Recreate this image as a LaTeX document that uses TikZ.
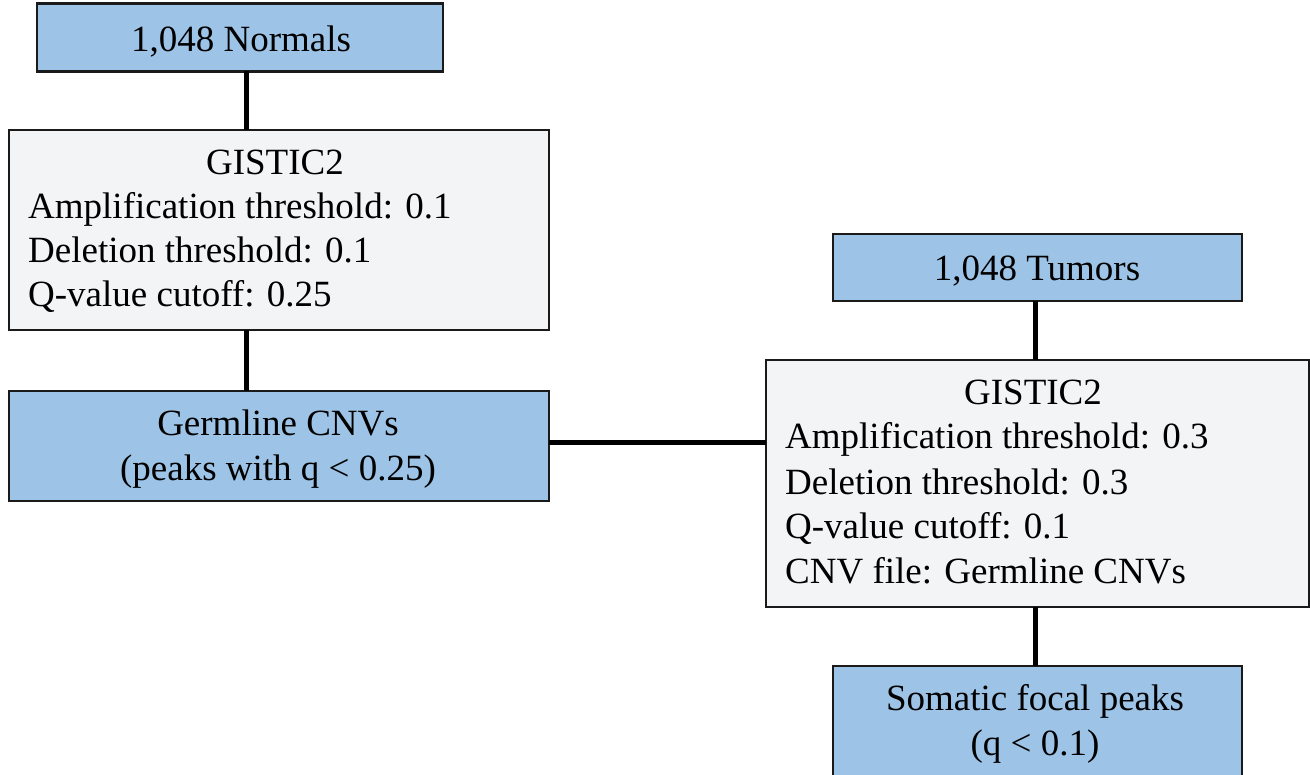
\documentclass[tikz,border=0pt]{standalone}
\usepackage{fontspec}
\setmainfont{Liberation Serif}
\definecolor{boxblue}{HTML}{9DC3E6}
\definecolor{boxgray}{HTML}{F3F4F6}
\definecolor{edgecol}{HTML}{1A1A1A}
\begin{document}
\begin{tikzpicture}[x=1pt,y=-1pt,
  bluebox/.style={draw=edgecol, fill=boxblue, line width=2.7pt, rectangle, inner sep=0pt, outer sep=0pt},
  graybox/.style={draw=edgecol, fill=boxgray, line width=2.7pt, rectangle, inner sep=0pt, outer sep=0pt},
  txt/.style={font=\fontsize{37}{44}\selectfont, inner sep=0pt, anchor=base},
  ltxt/.style={txt, anchor=base west},
  conn/.style={draw=black, line width=5pt}]
\useasboundingbox (0,0) rectangle (1310,775);
% boxes
\node[bluebox, minimum width=406pt, minimum height=68pt] (normals) at (240,37.5) {};
\node[graybox, minimum width=540pt, minimum height=200pt] (gist1) at (279,230) {};
\node[bluebox, minimum width=540pt, minimum height=110pt] (germ) at (279,446) {};
\node[bluebox, minimum width=409pt, minimum height=67pt] (tumors) at (1037.5,267.5) {};
\node[graybox, minimum width=543pt, minimum height=247pt] (gist2) at (1037.5,483.5) {};
\node[bluebox, minimum width=409pt, minimum height=112pt] (somatic) at (1037.5,722) {};
% connectors
\draw[conn] (normals.south -| 246,0) -- (gist1.north -| 246,0);
\draw[conn] (gist1.south -| 246,0) -- (germ.north -| 246,0);
\draw[conn] (germ.east |- 0,443) -- (gist2.west |- 0,443);
\draw[conn] (tumors.south -| 1035,0) -- (gist2.north -| 1035,0);
\draw[conn] (gist2.south -| 1035,0) -- (somatic.north -| 1035,0);
% texts
\node[txt] (tn) at (241,52) {1,048 Normals};
\node[txt] (g1a) at (275,175) {GISTIC2};
\node[ltxt] (g1b) at (28,219) {Amplification threshold: 0.1};
\node[ltxt] (g1c) at (28,263) {Deletion threshold: 0.1};
\node[ltxt] (g1d) at (28,307) {Q-value cutoff: 0.25};
\node[txt] (ge1) at (278,436) {Germline CNVs};
\node[txt] (ge2) at (278,481) {(peaks with q < 0.25)};
\node[txt] (tt) at (1037,281) {1,048 Tumors};
\node[txt] (g2a) at (1033,405) {GISTIC2};
\node[ltxt] (g2b) at (785,449) {Amplification threshold: 0.3};
\node[ltxt] (g2c) at (785,494) {Deletion threshold: 0.3};
\node[ltxt] (g2d) at (785,539) {Q-value cutoff: 0.1};
\node[ltxt] (g2e) at (785,583) {CNV file: Germline CNVs};
\node[txt] (s1) at (1035,710) {Somatic focal peaks};
\node[txt] (s2) at (1035,755) {(q < 0.1)};
\end{tikzpicture}
\end{document}
